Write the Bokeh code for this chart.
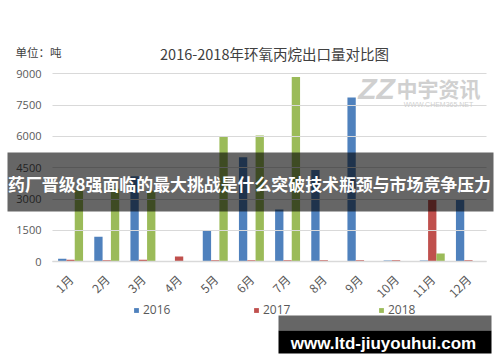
from math import pi
from bokeh.plotting import figure
from bokeh.models import Range1d, Label, BoxAnnotation, FixedTicker, Legend, LegendItem
from bokeh.embed import file_html
from bokeh.resources import INLINE

months = ["1月", "2月", "3月", "4月", "5月", "6月", "7月", "8月", "9月", "10月", "11月", "12月"]
s2016 = [150, 1200, 4100, 40, 1500, 5000, 2500, 4400, 7870, 60, 60, 3000]
s2017 = [100, 70, 100, 250, 70, 70, 70, 70, 70, 70, 3000, 70]
s2018 = [3450, 3500, 3400, 40, 6000, 6050, 8850, 0, 0, 0, 400, 0]
y_ticks = [0, 1500, 3000, 4500, 6000, 7500, 9000]
series_names = ["2016", "2017", "2018"]
colors = ["#4F81BD", "#C0504D", "#9BBB59"]

title_text = "2016-2018年环氧丙烷出口量对比图"
unit_text = "单位：吨"
banner_text = "药厂晋级8强面临的最大挑战是什么突破技术瓶颈与市场竞争压力"
site_text = "www.ltd-jiuyouhui.com"

W, H = 500, 362
# chart area in canvas pixels
CL, CR, CT, CB = 52.0, 486.0, 73.3, 261.3
n = len(months)
px_per_cat = (CR - CL) / n
ymax = 9000.0
px_per_unit = (CB - CT) / ymax

x_range = Range1d(-CL / px_per_cat, (W - CL) / px_per_cat)
y_range = Range1d(-(H - CB) / px_per_unit, CB / px_per_unit)

def sx(px):
    return px

def sy(py):
    return H - py

p = figure(width=W, height=H, x_range=x_range, y_range=y_range,
           output_backend="svg", toolbar_location=None,
           min_border_left=0, min_border_right=0, min_border_top=0, min_border_bottom=0)
p.outline_line_color = None
p.background_fill_color = "white"
p.border_fill_color = "white"
p.xgrid.visible = False
p.ygrid.visible = False

centers = [i + 0.5 for i in range(n)]
bw = 0.23
renderers = []
for i, (vals, c) in enumerate(zip([s2016, s2017, s2018], colors)):
    xs = [cx + (i - 1) * bw for cx in centers]
    renderers.append(p.vbar(x=xs, top=vals, width=bw, fill_color=c, line_color=None))

# y axis: ticks drawn inward act as gridlines
ya = p.yaxis[0]
ya.fixed_location = 0
ya.bounds = (0, ymax)
ya.ticker = FixedTicker(ticks=y_ticks)
ya.axis_line_color = None
ya.major_tick_line_color = "#D9D9D9"
ya.major_tick_in = int(round(CR - CL))
ya.major_tick_out = 0
ya.minor_tick_line_color = None
ya.major_label_standoff = 11
ya.major_label_text_font = "Open Sans"
ya.major_label_text_font_size = "11px"
ya.major_label_text_color = "#595959"

xa = p.xaxis[0]
xa.fixed_location = 0
xa.bounds = (0, n)
xa.ticker = FixedTicker(ticks=centers)
xa.major_label_overrides = {cx: m for cx, m in zip(centers, months)}
xa.axis_line_color = "#D9D9D9"
xa.axis_line_width = 1.5
xa.major_tick_line_color = None
xa.minor_tick_line_color = None
xa.major_label_orientation = pi / 4
xa.major_label_standoff = 9
xa.major_label_text_font = "Noto Sans CJK SC"
xa.major_label_text_font_size = "12px"
xa.major_label_text_color = "#595959"

# one legend per series so each entry sits where the reference has it
legend_x = [133, 253, 378]
for r, name, lx in zip(renderers, series_names, legend_x):
    lg = Legend(items=[LegendItem(label=name, renderers=[r])], location=(sx(lx), sy(318)),
                orientation="horizontal", background_fill_alpha=0, border_line_color=None,
                glyph_width=6, glyph_height=6, label_standoff=4, padding=0, margin=0,
                label_text_font="Open Sans", label_text_font_size="12px",
                label_text_color="#595959")
    p.add_layout(lg)

def screen_label(x, y, text, **kw):
    p.add_layout(Label(x=sx(x), y=sy(y), x_units="screen", y_units="screen", text=text, **kw))

def screen_box(l, r, t, b, **kw):
    p.add_layout(BoxAnnotation(left=sx(l), right=sx(r), top=sy(t), bottom=sy(b),
                               left_units="screen", right_units="screen",
                               top_units="screen", bottom_units="screen", line_color=None, **kw))

# title and unit
screen_label(274, 53, title_text, text_align="center", text_baseline="middle",
             text_font="Noto Sans CJK SC", text_font_size="14.5px", text_color="#404040")
screen_label(15, 51, unit_text, text_align="left", text_baseline="middle",
             text_font="Noto Sans CJK SC", text_font_size="11.5px", text_color="#404040")

# logo watermark
screen_label(376, 88, "ZZ", text_align="center", text_baseline="middle", text_font="Liberation Sans",
             text_font_style="bold italic", text_font_size="30px", text_color="#D0D0D0")
screen_label(438, 87, "中宇资讯", text_align="center", text_baseline="middle", text_font="Noto Sans CJK SC",
             text_font_style="bold", text_font_size="21px", text_color="#D0D0D0")
screen_label(438, 104, "WWW.CHEM365.NET", text_align="center", text_baseline="middle",
             text_font="Liberation Sans", text_font_size="7px", text_color="#D0D0D0")

# banner overlay
screen_box(7, 493, 152, 211, fill_color="black", fill_alpha=0.6, level="overlay")
screen_label(249, 183, banner_text, text_align="center", text_baseline="middle",
             text_font="Noto Sans CJK SC", text_font_style="bold", text_font_size="16.9px",
             text_color="white", level="overlay")

# site watermark
screen_box(278, 491, 315, 330, fill_color="black", fill_alpha=0.6, level="overlay")
screen_box(278, 491, 330, 353, fill_color="black", fill_alpha=1.0, level="overlay")
screen_label(383, 343, site_text, text_align="center", text_baseline="alphabetic",
             text_font="Liberation Sans", text_font_style="bold", text_font_size="17px",
             text_color="white", level="overlay")

open("out.html", "w").write(file_html(p, INLINE))
